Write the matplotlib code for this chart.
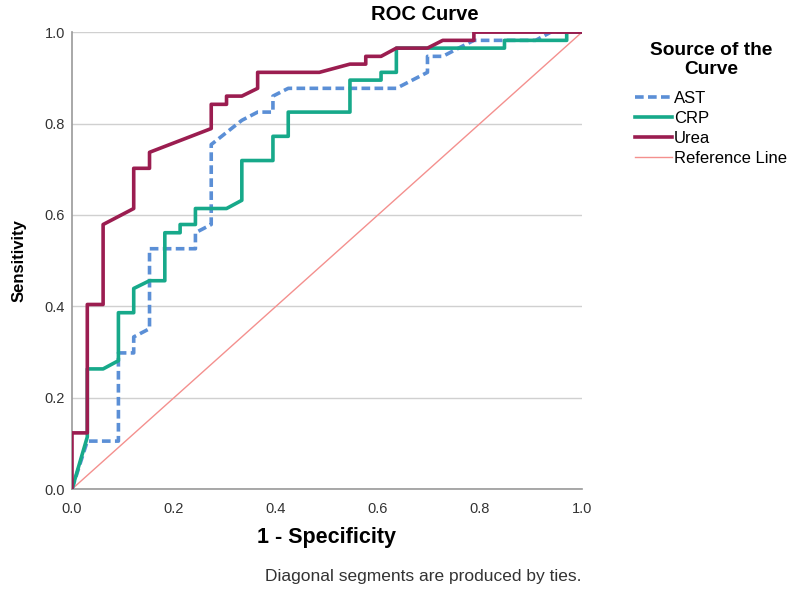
import matplotlib
matplotlib.use("Agg")
import matplotlib.pyplot as plt

plt.rcParams['font.family'] = ['Liberation Sans', 'DejaVu Sans']

# ROC points (1 - specificity, sensitivity)
ast_x = [0, 0.030, 0.091, 0.091, 0.121, 0.121, 0.152, 0.152, 0.242, 0.242, 0.273, 0.273,
         0.333, 0.364, 0.394, 0.394, 0.424, 0.636, 0.697, 0.697, 0.727, 0.758, 0.788,
         0.909, 0.939, 1.0]
ast_y = [0, 0.105, 0.105, 0.298, 0.298, 0.333, 0.351, 0.526, 0.526, 0.561, 0.579, 0.754,
         0.807, 0.825, 0.825, 0.860, 0.877, 0.877, 0.912, 0.947, 0.947, 0.965, 0.982,
         0.982, 1.0, 1.0]

crp_x = [0, 0.030, 0.030, 0.061, 0.091, 0.091, 0.121, 0.121, 0.152, 0.182, 0.182, 0.212,
         0.212, 0.242, 0.242, 0.303, 0.333, 0.333, 0.394, 0.394, 0.424, 0.424, 0.545,
         0.545, 0.606, 0.606, 0.636, 0.636, 0.848, 0.848, 0.970, 0.970, 1.0]
crp_y = [0, 0.114, 0.263, 0.263, 0.281, 0.386, 0.386, 0.439, 0.456, 0.456, 0.561, 0.561,
         0.579, 0.579, 0.614, 0.614, 0.632, 0.719, 0.719, 0.772, 0.772, 0.825, 0.825,
         0.895, 0.895, 0.912, 0.912, 0.965, 0.965, 0.982, 0.982, 1.0, 1.0]

urea_x = [0, 0, 0.030, 0.030, 0.061, 0.061, 0.121, 0.121, 0.152, 0.152, 0.273, 0.273,
          0.303, 0.303, 0.333, 0.364, 0.364, 0.485, 0.545, 0.576, 0.576, 0.606, 0.636,
          0.697, 0.727, 0.788, 0.788, 1.0]
urea_y = [0, 0.123, 0.123, 0.404, 0.404, 0.579, 0.614, 0.702, 0.702, 0.737, 0.789, 0.842,
          0.842, 0.860, 0.860, 0.877, 0.912, 0.912, 0.930, 0.930, 0.947, 0.947, 0.965,
          0.965, 0.982, 0.982, 1.0, 1.0]

ticks = [0.0, 0.2, 0.4, 0.6, 0.8, 1.0]

fig = plt.figure(figsize=(8, 5.95), dpi=100)
ax = fig.add_axes([0.09, 0.178, 0.6375, 0.768])

ax.plot([0, 1], [0, 1], color='#f4908e', lw=1.0, label='Reference Line', zorder=2)
ax.plot(ast_x, ast_y, color='#5b8fd6', lw=2.6, ls=(0, (2.4, 1.2)), label='AST', zorder=3)
ax.plot(crp_x, crp_y, color='#17a98a', lw=2.6, label='CRP', zorder=3)
ax.plot(urea_x, urea_y, color='#9b1d50', lw=2.6, label='Urea', zorder=4)

ax.set_xlim(0, 1)
ax.set_ylim(0, 1)
ax.set_xticks(ticks)
ax.set_yticks(ticks)
ax.set_xticklabels([f'{t:.1f}' for t in ticks])
ax.set_yticklabels([f'{t:.1f}' for t in ticks])
ax.tick_params(length=0, labelsize=10.5, colors='#333333')
ax.tick_params(axis='x', pad=9)
ax.tick_params(axis='y', pad=5)
ax.yaxis.grid(True, color='#d0d0d0', lw=1)
ax.set_axisbelow(True)
for s in ['top', 'right']:
    ax.spines[s].set_visible(False)
for s in ['left', 'bottom']:
    ax.spines[s].set_color('#999999')
    ax.spines[s].set_linewidth(1.2)

fig.text(425 / 800, 1 - 14 / 595, 'ROC Curve', fontsize=14.5, fontweight='bold',
         ha='center', va='center')
ax.set_xlabel('1 - Specificity', fontsize=15.5, fontweight='bold', labelpad=8)
ax.set_ylabel('Sensitivity', fontsize=12, fontweight='bold', labelpad=13)

handles, labels = ax.get_legend_handles_labels()
order = [1, 2, 3, 0]
leg = fig.legend([handles[i] for i in order], [labels[i] for i in order],
                 loc='upper left', bbox_to_anchor=(0.775, 0.955), frameon=False,
                 title='Source of the\nCurve', fontsize=12, handlelength=2.2,
                 handletextpad=0.15, labelspacing=0.3,
                 title_fontproperties={'weight': 'bold', 'size': 13.8})
leg.get_title().set_multialignment('center')
leg._legend_box.sep = 9

fig.text(0.331, 1 - 577 / 595, 'Diagonal segments are produced by ties.', fontsize=12.5,
         color='#333333', va='center')

fig.savefig('out.png', dpi=100)
